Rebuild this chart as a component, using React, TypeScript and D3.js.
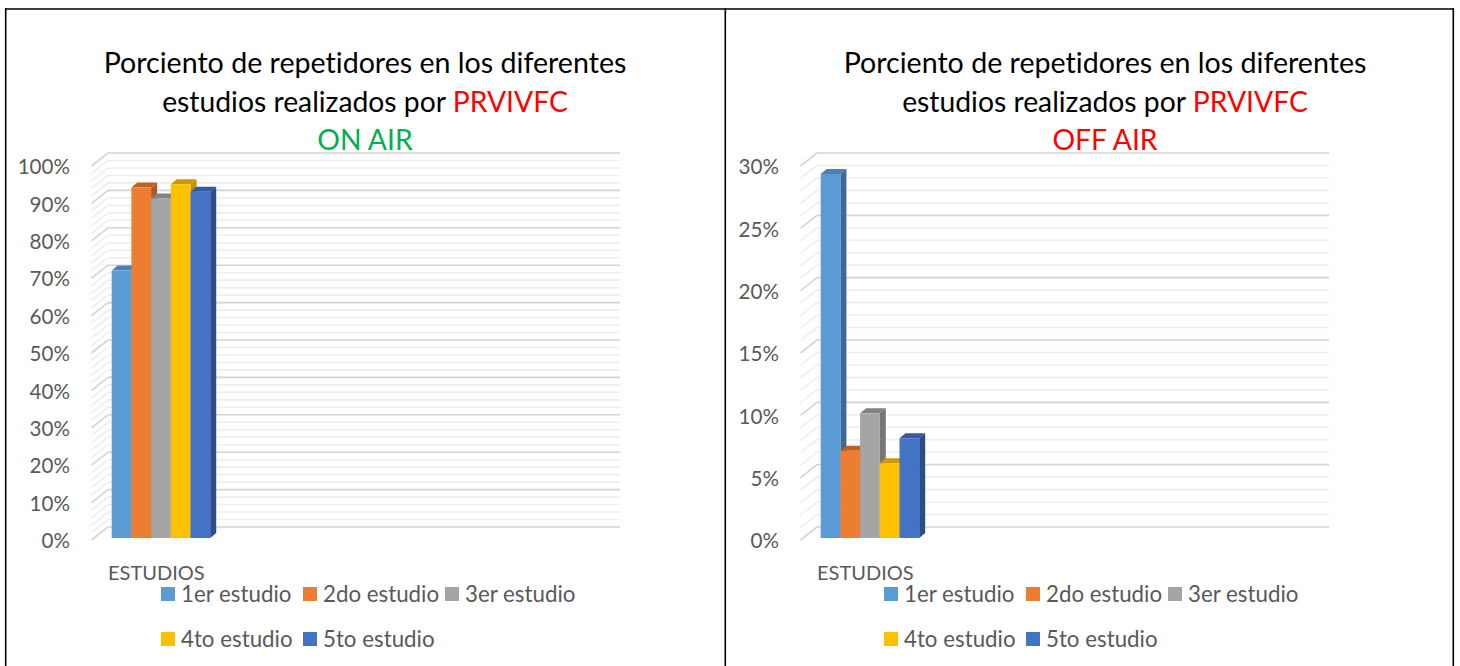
import React from "react";
import * as d3 from "d3";

const series = ["1er estudio", "2do estudio", "3er estudio", "4to estudio", "5to estudio"];
const category = "ESTUDIOS";
const onAirValues = [71.5, 93.7, 90.8, 94.6, 92.6];
const offAirValues = [29.2, 7, 10, 6, 8];
const onAirTicks = [0, 10, 20, 30, 40, 50, 60, 70, 80, 90, 100];
const offAirTicks = [0, 5, 10, 15, 20, 25, 30];
const titleLine1 = "Porciento de repetidores en los diferentes";
const titleLine2a = "estudios realizados por ";
const titleLine2b = "PRVIVFC";

const front = ["#5B9BD5", "#ED7D31", "#A5A5A5", "#FFC000", "#4472C4"];
const topC = ["#4a80b6", "#c0601d", "#828282", "#cc9900", "#3659a2"];
const sideC = ["#3d6a95", "#b05a20", "#767676", "#bf9000", "#2c4c88"];

const FONT = "Lato, 'Open Sans', sans-serif";
const TXT = "#595959";
const noLig = { fontVariantLigatures: "none" as const, fontFeatureSettings: "'liga' 0" };

type PanelProps = {
  ox: number;
  tx: number;
  lx: number;
  values: number[];
  ticks: number[];
  max: number;
  minorStep: number;
  sub: string;
  subColor: string;
};

function Panel({ ox, tx, lx, values, ticks, max, minorStep, sub, subColor }: PanelProps) {
  const backLeft = 108 + ox;
  const backRight = 620 + ox;
  const sideFront = 91.5 + ox;
  const sideDy = 13;
  const yBack = d3.scaleLinear().domain([0, max]).range([527, 153]);
  const yLabel = d3.scaleLinear().domain([0, max]).range([541, 167]);
  const yBar = d3.scaleLinear().domain([0, max]).range([538, 164]);
  const xBand = d3
    .scaleBand<string>()
    .domain(series)
    .range([111.7 + ox, 111.7 + ox + 5 * 19.7])
    .paddingInner(0)
    .paddingOuter(0);
  const dx = 6;
  const dy = -5;
  const majorSet = new Set(ticks);
  const gridVals = d3.range(0, max + 0.001, minorStep).map((v) => Math.round(v * 1000) / 1000);
  const titleCx = 365 + tx;

  return (
    <g style={noLig}>
      <text x={titleCx} y={73} textAnchor="middle" fontFamily={FONT} fontSize={28.6} fill="#000">
        {titleLine1}
      </text>
      <text x={titleCx} y={112} textAnchor="middle" fontFamily={FONT} fontSize={28.3} fill="#000">
        {titleLine2a}
        <tspan fill="#FF0000">{titleLine2b}</tspan>
      </text>
      <text x={titleCx} y={150} textAnchor="middle" fontFamily={FONT} fontSize={28.3} fill={subColor}>
        {sub}
      </text>

      {gridVals.map((v) => {
        const major = majorSet.has(v);
        const col = major ? "#d4d4d4" : "#eeeeee";
        const yb = yBack(v);
        return (
          <g key={v}>
            <line x1={backLeft} x2={backRight} y1={yb} y2={yb} stroke={col} strokeWidth={1.6} />
            <line x1={sideFront} y1={yb + sideDy} x2={backLeft} y2={yb} stroke={col} strokeWidth={1.6} />
          </g>
        );
      })}

      {ticks.map((t) => (
        <text
          key={t}
          x={70 + ox}
          y={yLabel(t)}
          dy="0.35em"
          textAnchor="end"
          fontFamily={FONT}
          fontSize={20.6}
          fill={TXT}
        >
          {t + "%"}
        </text>
      ))}

      {series.map((s, i) => {
        const x0 = xBand(s)!;
        const x1 = x0 + xBand.bandwidth();
        const yt = yBar(values[i]);
        const yb = yBar(0);
        return (
          <g key={s}>
            <polygon
              points={`${x1},${yt} ${x1 + dx},${yt + dy} ${x1 + dx},${yb + dy} ${x1},${yb}`}
              fill={sideC[i]}
            />
            <polygon
              points={`${x0},${yt} ${x1},${yt} ${x1 + dx},${yt + dy} ${x0 + dx},${yt + dy}`}
              fill={topC[i]}
            />
            <rect x={x0} y={yt} width={x1 - x0} height={yb - yt} fill={front[i]} />
          </g>
        );
      })}

      <text x={108 + ox} y={573} dy="0.35em" fontFamily={FONT} fontSize={20} fill={TXT}>
        {category}
      </text>

      {series.map((s, i) => {
        const row = i < 3 ? 0 : 1;
        const col = i < 3 ? i : i - 3;
        const sx = [161, 303, 445][col] + lx;
        const cy = row === 0 ? 594 : 639;
        return (
          <g key={"lg" + s}>
            <rect x={sx} y={cy - 7} width={14} height={14} fill={front[i]} />
            <text x={sx + 20} y={cy} dy="0.35em" fontFamily={FONT} fontSize={22.3} fill={TXT}>
              {s}
            </text>
          </g>
        );
      })}
    </g>
  );
}

export default function App() {
  return (
    <svg
      width={1460}
      height={666}
      style={{ position: "absolute", left: 0, top: 0, background: "#fff" }}
    >
      <rect x={0} y={0} width={1460} height={666} fill="#fff" />
      <Panel
        ox={0}
        tx={0}
        lx={0}
        values={onAirValues}
        ticks={onAirTicks}
        max={100}
        minorStep={2}
        sub="ON AIR"
        subColor="#00B050"
      />
      <Panel
        ox={709}
        tx={740}
        lx={723}
        values={offAirValues}
        ticks={offAirTicks}
        max={30}
        minorStep={1}
        sub="OFF AIR"
        subColor="#FF0000"
      />
      <line x1={5} x2={1454} y1={9} y2={9} stroke="#000" strokeWidth={1.6} />
      <line x1={5.7} x2={5.7} y1={8} y2={666} stroke="#000" strokeWidth={1.6} />
      <line x1={725.3} x2={725.3} y1={8} y2={666} stroke="#000" strokeWidth={1.6} />
      <line x1={1453.3} x2={1453.3} y1={8} y2={666} stroke="#000" strokeWidth={1.6} />
    </svg>
  );
}
